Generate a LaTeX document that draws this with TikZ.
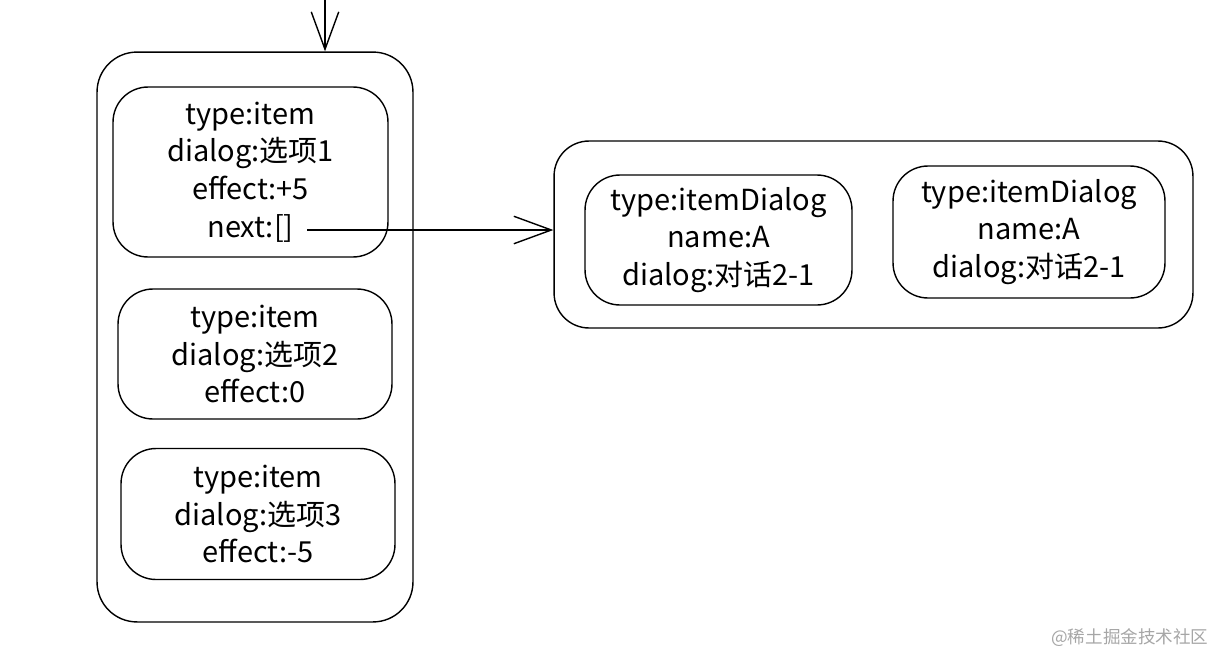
\documentclass[tikz,border=0pt]{standalone}
\usepackage{fontspec}
\setmainfont{Noto Sans CJK SC}
\usepackage{tikz}
\usetikzlibrary{arrows.meta, calc, positioning}

\begin{document}
\begin{tikzpicture}[x=0.02cm, y=-0.02cm,% 1 unit = 1 pixel of the sketch
         > = {Straight Barb[length=7.5mm, width=5.5mm]},
every node/.style = {font=\fontsize{16.5}{21.5}\selectfont, line width=0.8pt},
box/.style   = {draw, rounded corners=0.7cm, align=center,
                inner sep=0pt},
outer/.style = {draw, rounded corners=0.8cm, inner sep=0pt}
                        ]
	\useasboundingbox (0,0) rectangle (1223,656);

	% left list of items
	\node[outer, minimum width=6.32cm, minimum height=11.4cm] (itemlist) at (255,337) {};
	\node[box, minimum width=5.5cm, minimum height=3.4cm] (item1) at (250.5,172)
		{type:item\\ dialog:选项1\\ effect:+5\\ next:[]};
	\node[box, minimum width=5.48cm, minimum height=2.6cm] (item2) at (255,354)
		{type:item\\ dialog:选项2\\ effect:0};
	\node[box, minimum width=5.48cm, minimum height=2.62cm] (item3) at (258,514)
		{type:item\\ dialog:选项3\\ effect:-5};

	% right list of dialogs
	\node[outer, rounded corners=0.7cm, minimum width=12.78cm, minimum height=3.74cm] (dlglist) at (873.5,234.5) {};
	\node[box, minimum width=5.34cm, minimum height=2.6cm] (dlgA) at (718.5,240)
		{type:itemDialog\\ name:A\\ dialog:对话2-1};
	\node[box, minimum width=5.44cm, minimum height=2.64cm] (dlgB) at (1029,232)
		{type:itemDialog\\ name:A\\ dialog:对话2-1};

	% arrows
	\coordinate (top) at (325,0);
	\coordinate (nextref) at (307,230);
	\draw[->, line width=0.8pt] (top) -- (top |- itemlist.north);
	\draw[->, line width=0.8pt] (nextref) -- (dlglist.west |- nextref);

	\node[anchor=east, text=gray!70, font=\fontsize{10}{12}\selectfont] (mark) at (1215,638) {@稀土掘金技术社区};
\end{tikzpicture}
\end{document}
